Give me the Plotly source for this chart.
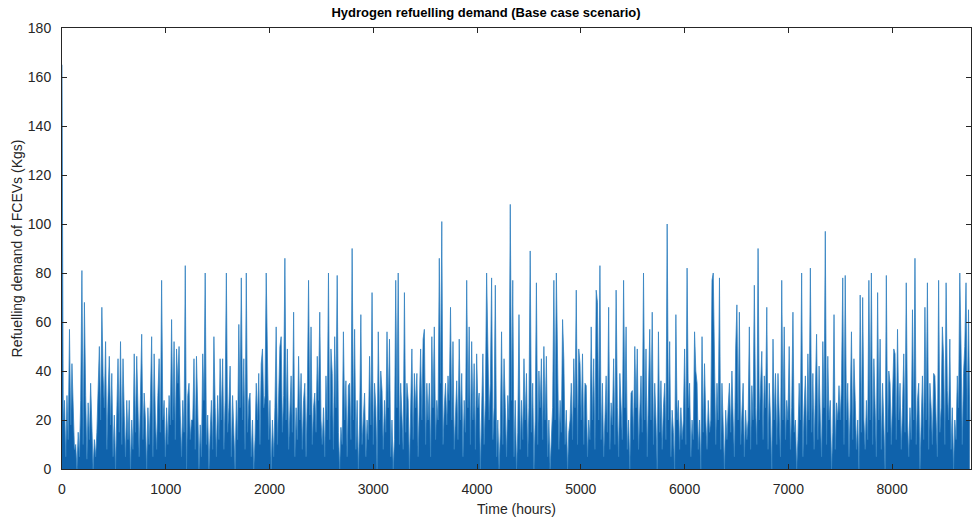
import plotly.graph_objects as go

step_hours = 12
demand_kg = [
    # 0-104
    165, 20, 28, 5, 30, 12, 57, 18, 43, 25, 8, 10, 0, 15, 5, 28, 81, 10, 68, 30,
    4, 27, 12, 35, 20, 0, 12, 5, 15, 30, 50, 20, 66, 38, 25, 52, 8, 30, 46, 18,
    39, 5, 22, 0, 28, 45, 15, 52, 10, 45, 22, 5, 28, 12, 28, 0, 20, 8, 47, 15,
    46, 22, 5, 30, 55, 12, 31, 20, 0, 25, 10, 28, 54, 5, 47, 20, 8, 30, 45, 15,
    77, 20, 28, 5, 25, 10, 30, 18, 61, 20, 52, 12, 49, 35, 50, 22, 5, 28, 15, 83,
    0, 30, 35, 12, 20,
    # 105-208
    20, 45, 8, 46, 25, 0, 18, 5, 47, 28, 80, 10, 22, 0, 15, 28, 8, 54, 25, 5,
    30, 12, 45, 20, 45, 8, 28, 80, 15, 25, 42, 5, 30, 18, 0, 28, 12, 59, 25, 78,
    20, 45, 8, 80, 15, 28, 31, 5, 20, 0, 12, 35, 20, 39, 10, 43, 49, 25, 30, 80,
    50, 12, 28, 0, 20, 5, 25, 58, 10, 28, 50, 54, 15, 30, 86, 20, 49, 8, 28, 38,
    15, 64, 5, 25, 12, 46, 20, 39, 8, 28, 35, 5, 30, 77, 22, 58, 10, 25, 31, 15,
    46, 28, 64, 20,
    # 209-312
    10, 25, 5, 38, 20, 80, 12, 49, 39, 8, 54, 25, 79, 15, 0, 17, 10, 56, 20, 36,
    5, 34, 35, 12, 90, 20, 57, 8, 28, 0, 18, 63, 10, 25, 31, 5, 20, 12, 46, 18,
    72, 10, 35, 25, 0, 56, 20, 40, 32, 8, 28, 15, 56, 25, 53, 5, 20, 0, 12, 77,
    25, 80, 10, 35, 20, 8, 72, 15, 35, 28, 0, 20, 49, 12, 39, 25, 39, 5, 30, 49,
    20, 53, 57, 10, 35, 20, 35, 5, 54, 25, 58, 12, 28, 20, 86, 35, 101, 10, 25, 35,
    18, 38, 28, 66,
    # 313-416
    20, 52, 8, 25, 36, 12, 53, 20, 39, 5, 28, 15, 77, 25, 58, 10, 52, 20, 43, 8,
    47, 25, 31, 0, 18, 47, 10, 28, 80, 49, 20, 35, 78, 12, 25, 75, 5, 20, 0, 15,
    56, 10, 45, 25, 5, 30, 20, 108, 28, 77, 5, 28, 0, 15, 63, 8, 28, 12, 45, 20,
    39, 5, 25, 89, 15, 35, 0, 20, 76, 10, 40, 25, 45, 12, 50, 20, 46, 5, 20, 0,
    12, 25, 77, 20, 80, 39, 8, 28, 15, 61, 45, 10, 24, 0, 15, 20, 35, 12, 45, 25,
    73, 10, 49, 43,
    # 417-520
    20, 47, 10, 35, 34, 5, 20, 12, 58, 20, 45, 8, 73, 68, 20, 83, 12, 35, 5, 20,
    38, 15, 66, 8, 27, 18, 45, 10, 73, 25, 5, 39, 20, 12, 77, 25, 58, 8, 20, 0,
    31, 32, 12, 50, 25, 49, 8, 20, 38, 15, 80, 20, 49, 5, 28, 57, 20, 64, 10, 35,
    20, 0, 56, 15, 36, 8, 25, 35, 12, 100, 20, 52, 5, 24, 15, 0, 63, 20, 28, 8,
    25, 12, 20, 49, 10, 82, 25, 35, 5, 20, 12, 56, 40, 35, 8, 20, 0, 54, 15, 43,
    20, 8, 28, 15,
    # 521-624
    20, 77, 80, 38, 10, 35, 20, 78, 8, 35, 20, 0, 24, 12, 25, 35, 15, 40, 20, 5,
    49, 67, 20, 64, 10, 25, 35, 5, 24, 12, 20, 58, 8, 34, 20, 75, 25, 10, 90, 20,
    35, 48, 12, 38, 25, 66, 8, 35, 20, 0, 53, 20, 39, 10, 39, 25, 5, 77, 20, 58,
    12, 28, 20, 50, 8, 25, 64, 15, 20, 0, 12, 35, 20, 80, 5, 25, 38, 10, 47, 20,
    82, 15, 39, 8, 28, 55, 12, 42, 20, 5, 52, 25, 97, 10, 46, 20, 28, 0, 15, 63,
    8, 27, 20, 34,
    # 625-729
    20, 35, 78, 10, 79, 20, 35, 5, 25, 56, 12, 45, 28, 8, 20, 0, 71, 15, 70, 20,
    8, 28, 12, 77, 20, 80, 10, 45, 25, 5, 72, 20, 53, 8, 35, 20, 0, 79, 15, 40,
    35, 10, 25, 49, 47, 12, 57, 20, 35, 8, 25, 47, 15, 76, 20, 5, 25, 12, 65, 20,
    86, 10, 28, 35, 0, 20, 38, 12, 66, 20, 76, 8, 35, 25, 10, 39, 38, 20, 5, 77,
    15, 25, 58, 45, 10, 76, 32, 20, 53, 8, 25, 0, 20, 12, 38, 25, 80, 49, 10, 39,
    50, 76, 20, 65, 20,
]
time_hours = [i * step_hours for i in range(len(demand_kg))]

x_ticks = [0, 1000, 2000, 3000, 4000, 5000, 6000, 7000, 8000]
y_ticks = [0, 20, 40, 60, 80, 100, 120, 140, 160, 180]

FONT = "Liberation Sans, Arial, Helvetica, sans-serif"

fig = go.Figure()
fig.add_trace(go.Scatter(
    x=time_hours, y=demand_kg, mode="lines",
    line=dict(color="#3483c2", width=0.8),
    fill="tozeroy", fillcolor="#0f62ab",
    hoverinfo="skip", showlegend=False,
))

axis_common = dict(
    showline=True, linecolor="#262626", linewidth=1, mirror="ticks",
    ticks="inside", ticklen=5, tickcolor="#262626", showgrid=False, zeroline=False,
    automargin=False,
    tickfont=dict(family=FONT, size=14, color="#262626"),
)

fig.update_layout(
    width=972, height=517,
    margin=dict(l=62, r=1, t=28, b=48),
    paper_bgcolor="white", plot_bgcolor="white",
    title=dict(
        text="<b>Hydrogen refuelling demand (Base case scenario)</b>",
        x=0.5, xanchor="center", y=1 - 12 / 517, yanchor="middle",
        font=dict(family=FONT, size=13, color="#000000"),
    ),
    xaxis=dict(
        range=[0, 8760], tickvals=x_ticks, ticktext=[str(v) for v in x_ticks],
        ticklabelstandoff=7,
        title=dict(text="Time (hours)", standoff=8,
                   font=dict(family=FONT, size=14, color="#262626")),
        **axis_common,
    ),
    yaxis=dict(
        range=[0, 180], tickvals=y_ticks, ticktext=[str(v) for v in y_ticks],
        ticklabelstandoff=7,
        title=dict(text="Refuelling demand of FCEVs (Kgs)", standoff=1,
                   font=dict(family=FONT, size=14, color="#262626")),
        **axis_common,
    ),
)

fig.write_html("out.html", config={"displayModeBar": False},
               post_script="document.body.style.margin='0';")
